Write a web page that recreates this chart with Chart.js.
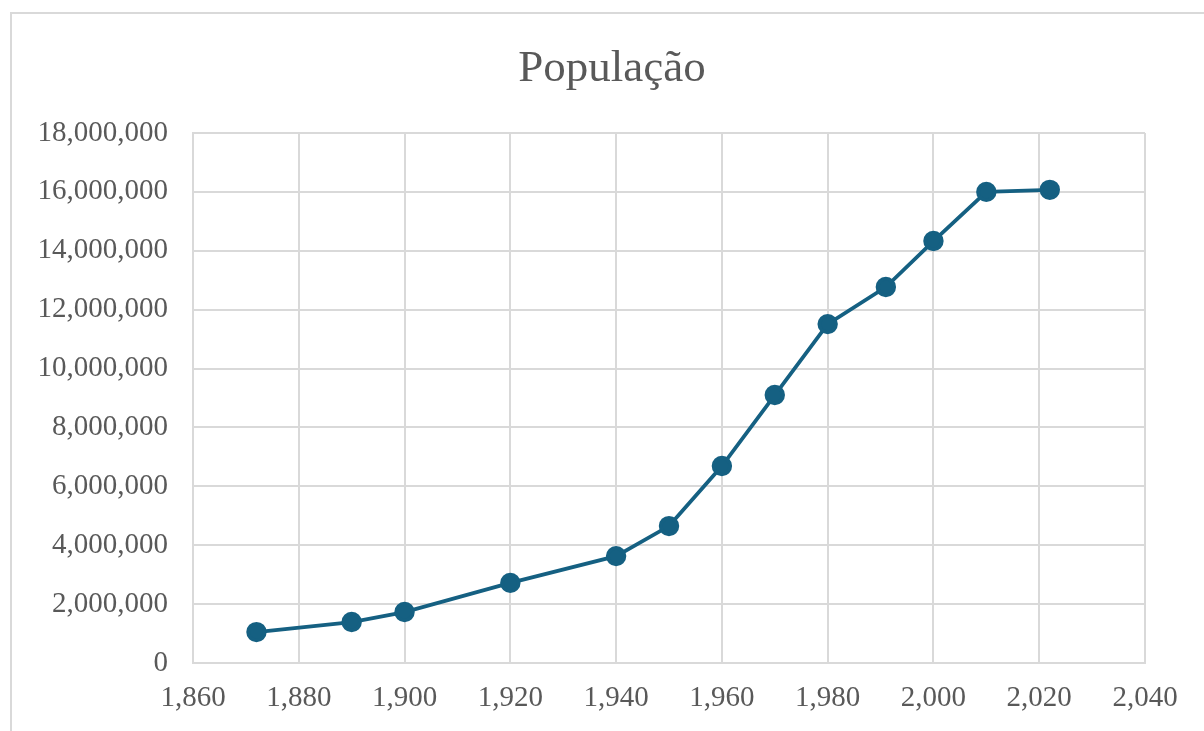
<!DOCTYPE html>
<html><head><meta charset="utf-8">
<script src="https://cdn.jsdelivr.net/npm/chart.js@4/dist/chart.umd.min.js"></script>
<style>
html,body{margin:0;padding:0;background:#fff;overflow:hidden}
#wrap{position:relative;width:1204px;height:731px}
#frame{position:absolute;left:10px;top:12px;width:1300px;height:800px;border:2px solid #d9d9d9;box-sizing:border-box}
canvas{position:absolute;left:0;top:0}
</style></head>
<body><div id="wrap"><div id="frame"></div><canvas id="c" width="1204" height="731"></canvas></div>
<script>
const years = [1872, 1890, 1900, 1920, 1940, 1950, 1960, 1970, 1980, 1991, 2000, 2010, 2022];
const population = [1050000, 1390000, 1730000, 2720000, 3630000, 4650000, 6690000, 9100000, 11510000, 12770000, 14330000, 16000000, 16070000];
const titleText = 'População';
const xTicks = [1860, 2040, 20];
const yTicks = [0, 18000000, 2000000];

const fmt = v => Number(v).toLocaleString('en-US');
const font = 'Liberation Serif, Times New Roman, serif';
const titlePlugin = {
  id: 'frameTitle',
  afterDraw(chart) {
    const ctx = chart.ctx;
    ctx.save();
    ctx.font = '45px ' + font;
    ctx.fillStyle = '#595959';
    ctx.textAlign = 'center';
    ctx.textBaseline = 'middle';
    ctx.fillText(titleText, 612, 69);
    ctx.restore();
  }
};
new Chart(document.getElementById('c'), {
  type: 'line',
  data: { datasets: [{
    data: years.map((y,i)=>({x:y,y:population[i]})),
    borderColor: '#156082', backgroundColor: '#156082',
    borderWidth: 3.8, pointRadius: 8.3, pointHoverRadius: 8.3, tension: 0
  }]},
  plugins: [titlePlugin],
  options: {
    responsive: false, animation: false,
    layout: { padding: { top: 133, right: 59, bottom: 0, left: 0 } },
    plugins: { legend: { display: false }, tooltip: { enabled: false }, title: { display: false } },
    scales: {
      x: { type: 'linear', min: xTicks[0], max: xTicks[1],
        ticks: { stepSize: xTicks[2], callback: fmt, color: '#595959', font: { family: font, size: 29 }, padding: 18, maxRotation: 0 },
        grid: { color: '#d9d9d9', lineWidth: 2, drawTicks: false },
        border: { color: '#d9d9d9', width: 2 },
        afterFit: s => { s.height = 68; } },
      y: { min: yTicks[0], max: yTicks[1],
        ticks: { stepSize: yTicks[2], callback: fmt, color: '#595959', font: { family: font, size: 29 }, padding: 25 },
        grid: { color: '#d9d9d9', lineWidth: 2, drawTicks: false },
        border: { color: '#d9d9d9', width: 2 },
        afterFit: s => { s.width = 193; } }
    }
  }
});
</script></body></html>
